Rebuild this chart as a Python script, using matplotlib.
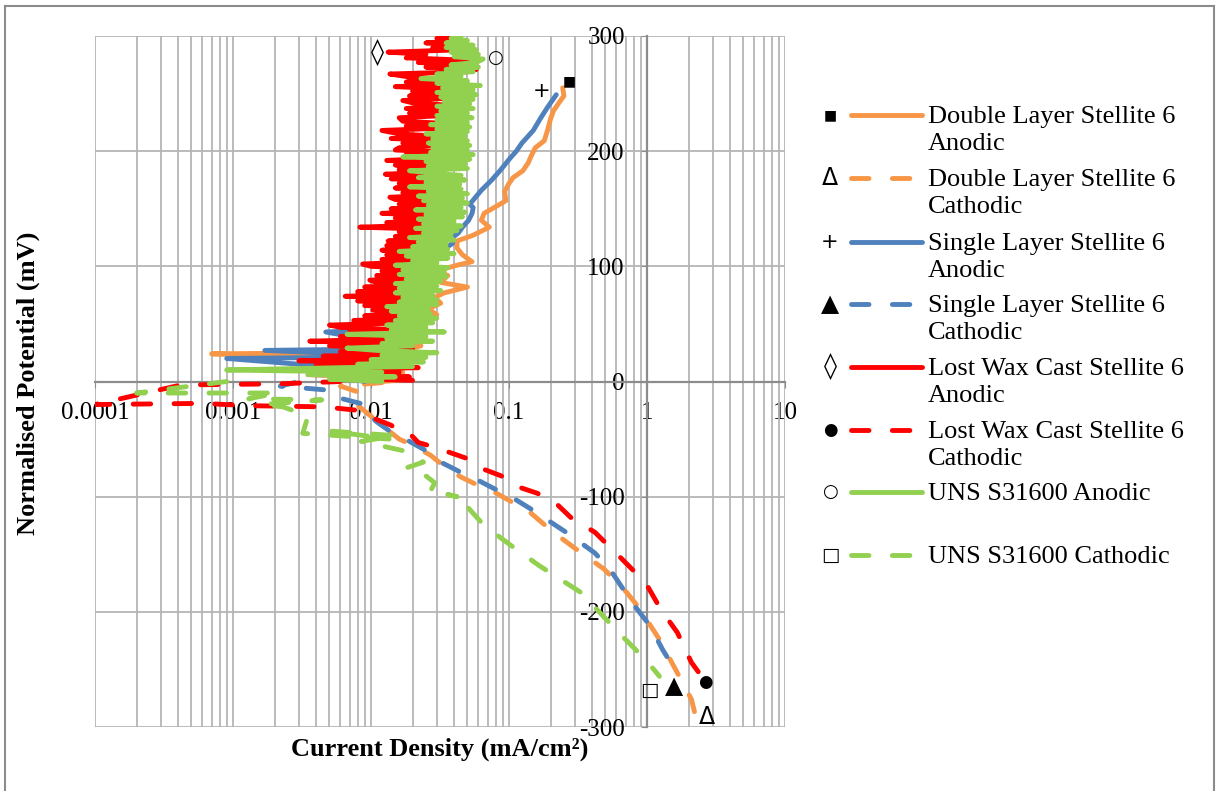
import numpy as np
import matplotlib.pyplot as plt
from matplotlib.lines import Line2D
from matplotlib.ticker import FixedLocator, FuncFormatter, LogLocator, NullFormatter

plt.rcParams['font.family'] = ['Liberation Serif', 'DejaVu Sans']
plt.rcParams['axes.unicode_minus'] = False

# current density (mA/cm2) and normalised potential (mV) for each polarisation scan
dl_an_i = [0.012, 0.019, 0.009, 0.017, 0.006, 0.014, 0.004, 0.012, 0.0007, 0.006, 0.018, 0.023,
           0.016, 0.021, 0.019, 0.025, 0.024, 0.030, 0.026, 0.032, 0.029, 0.034, 0.050, 0.032,
           0.036, 0.030, 0.042, 0.054, 0.046, 0.042, 0.042, 0.055, 0.072, 0.063, 0.066, 0.078,
           0.095, 0.093, 0.100, 0.107, 0.126, 0.138, 0.145, 0.155, 0.180, 0.190, 0.200, 0.210,
           0.230, 0.250, 0.245]
dl_an_e = [0, 2, 5, 8, 11, 14, 17, 20, 24, 25, 27, 31,
           36, 42, 46, 50, 54, 58, 63, 68, 73, 77, 82, 86,
           92, 96, 101, 104, 110, 116, 122, 127, 134, 140, 146, 151,
           157, 165, 172, 177, 183, 190, 196, 203, 209, 218, 228, 235,
           242, 248, 255]

dl_ca_i = [0.012, 0.006, 0.0085, 0.0075, 0.0095, 0.012, 0.016, 0.019, 0.027, 0.035, 0.045, 0.064,
           0.081, 0.11, 0.14, 0.21, 0.31, 0.49, 0.71, 0.87, 1.23, 1.66, 2.10, 2.22]
dl_ca_e = [-1, -4, -10, -18, -28, -38, -50, -54, -64, -75, -83, -92,
           -97, -106, -113, -131, -146, -163, -183, -196, -224, -253, -276, -288]

sl_an_i = [0.009, 0.0065, 0.011, 0.0045, 0.012, 0.003, 0.0009, 0.006, 0.010, 0.0017, 0.008, 0.012,
           0.010, 0.0047, 0.013, 0.015, 0.018, 0.020, 0.016, 0.022, 0.020, 0.025, 0.022, 0.028,
           0.026, 0.030, 0.036, 0.039, 0.038, 0.043, 0.046, 0.051, 0.054, 0.055, 0.052, 0.063,
           0.075, 0.086, 0.102, 0.113, 0.124, 0.150, 0.170, 0.190, 0.220]
sl_an_e = [0, 3, 6, 9, 12, 15, 20, 21, 23, 27, 28, 32,
           36, 43, 45, 50, 55, 62, 68, 74, 82, 88, 95, 102,
           108, 113, 117, 120, 124, 129, 134, 140, 146, 151, 154, 166,
           175, 183, 194, 200, 207, 218, 229, 238, 249]

sl_ca_i = [0.0028, 0.0022, 0.0055, 0.0062, 0.009, 0.0095, 0.011, 0.014, 0.019, 0.025, 0.032, 0.045,
           0.058, 0.078, 0.10, 0.15, 0.20, 0.26, 0.42, 0.56, 0.78, 1.05, 1.30, 1.65]
sl_ca_e = [-1, -4, -8, -15, -20, -28, -35, -44, -52, -60, -70, -79,
           -85, -93, -99, -112, -122, -131, -149, -166, -192, -212, -233, -253]

lw_an_i = [0.020, 0.009, 0.019, 0.0035, 0.016, 0.003, 0.022, 0.004, 0.018, 0.003, 0.020, 0.0045,
           0.018, 0.006, 0.020, 0.005, 0.014, 0.0036, 0.015, 0.006, 0.016, 0.007, 0.016, 0.006,
           0.005, 0.018, 0.0075, 0.020, 0.009, 0.018, 0.0103, 0.022, 0.009, 0.020, 0.008, 0.019,
           0.0065, 0.018, 0.008, 0.022, 0.009, 0.020, 0.011, 0.0098, 0.022, 0.011, 0.024, 0.012,
           0.022, 0.010, 0.0087, 0.021, 0.012, 0.025, 0.013, 0.024, 0.012, 0.026, 0.013, 0.028,
           0.0133, 0.026, 0.015, 0.027,
           0.016, 0.030, 0.0083, 0.0255, 0.013, 0.028, 0.015, 0.032, 0.012, 0.030, 0.014, 0.033,
           0.016, 0.030, 0.015, 0.0137, 0.032, 0.017, 0.034, 0.015, 0.030, 0.016, 0.035, 0.014,
           0.031, 0.0127, 0.030, 0.016, 0.034, 0.015, 0.031, 0.013, 0.033, 0.018, 0.036, 0.015,
           0.016, 0.033, 0.017, 0.035, 0.014, 0.030, 0.016, 0.012, 0.034, 0.018, 0.036, 0.017,
           0.016, 0.035, 0.019, 0.038, 0.018, 0.036, 0.020, 0.017, 0.037, 0.019, 0.040, 0.020,
           0.038, 0.015, 0.040, 0.018, 0.045, 0.020, 0.0137, 0.050, 0.058, 0.025, 0.048, 0.022,
           0.050, 0.018, 0.025, 0.0133, 0.045, 0.028, 0.050, 0.025, 0.048, 0.030, 0.040]
lw_an_e = [1, 2, 4, 6, 8, 10, 12, 14, 16, 18, 20, 22,
           24, 26, 28, 31, 33, 35, 37, 39, 41, 43, 45, 47,
           49, 51, 53, 55, 57, 59, 62, 64, 66, 68, 70, 72,
           74, 76, 78, 80, 82, 84, 86, 88, 90, 92, 94, 96,
           98, 100, 102, 104, 106, 108, 110, 112, 114, 116, 118, 120,
           122, 124, 126, 128,
           130, 132, 134, 136, 138, 140, 142, 144, 146, 148, 150, 152,
           154, 156, 158, 160, 162, 164, 166, 168, 170, 172, 174, 176,
           178, 180, 182, 184, 186, 188, 190, 192, 194, 197, 199, 201,
           203, 205, 207, 209, 211, 213, 215, 218, 220, 222, 224, 226,
           229, 231, 233, 235, 237, 240, 242, 244, 246, 248, 250, 252,
           254, 256, 258, 260, 262, 264, 267, 269, 271, 273, 275, 277,
           279, 281, 284, 286, 288, 290, 292, 294, 296, 298, 300]

lw_ca_i = [0.006, 0.0022, 0.00042, 0.0001, 0.0006, 0.0013, 0.0045, 0.008, 0.011, 0.014, 0.016, 0.019,
           0.022, 0.027, 0.038, 0.050, 0.065, 0.088, 0.12, 0.16, 0.22, 0.28, 0.42, 0.62,
           0.98, 1.26, 1.66, 2.10, 2.35]
lw_ca_e = [0, -2, -3, -20, -19, -21, -22, -25, -33, -38, -43, -45,
           -53, -56, -62, -67, -76, -82, -92, -97, -106, -118, -131, -151,
           -175, -198, -218, -244, -252]

uns_an_i = [0.012, 0.005, 0.015, 0.0035, 0.012, 0.0009, 0.006, 0.020, 0.008, 0.024, 0.010, 0.025,
            0.012, 0.030, 0.011, 0.0067, 0.020, 0.012, 0.028, 0.013, 0.025, 0.0067, 0.034, 0.014,
            0.025, 0.013, 0.028, 0.015, 0.030, 0.016, 0.027, 0.014, 0.026, 0.013, 0.030, 0.016,
            0.030, 0.017, 0.028, 0.015, 0.032, 0.016, 0.030, 0.015, 0.032, 0.018, 0.035, 0.016,
            0.034, 0.017, 0.036, 0.015, 0.030, 0.020, 0.036, 0.018, 0.040, 0.016, 0.036, 0.020,
            0.035, 0.022, 0.040, 0.019, 0.038, 0.024, 0.042, 0.021, 0.045, 0.024, 0.040, 0.022,
            0.046, 0.025, 0.048, 0.021, 0.045, 0.026, 0.050, 0.024, 0.046, 0.022, 0.050, 0.026,
            0.045, 0.019, 0.044, 0.025, 0.048, 0.022, 0.045, 0.027, 0.019, 0.050, 0.026, 0.048,
            0.025, 0.052, 0.017, 0.055, 0.027, 0.050, 0.028, 0.052, 0.026, 0.050, 0.028, 0.048,
            0.025, 0.050, 0.030, 0.052, 0.027, 0.050, 0.030, 0.054, 0.030, 0.050, 0.032, 0.055,
            0.030, 0.052, 0.034, 0.055, 0.032, 0.058, 0.030, 0.055, 0.033, 0.062, 0.030, 0.050,
            0.023, 0.045, 0.030, 0.055, 0.035, 0.060, 0.038, 0.058, 0.065, 0.040, 0.060, 0.038,
            0.058, 0.035, 0.055, 0.035, 0.050, 0.038, 0.045]
uns_an_e = [0, 2, 4, 6, 8, 10, 12, 13, 15, 17, 19, 21,
            23, 25, 27, 29, 31, 33, 35, 37, 39, 41, 43, 45,
            47, 49, 51, 53, 55, 57, 59, 61, 63, 65, 67, 69,
            71, 73, 75, 77, 79, 81, 83, 85, 87, 89, 91, 93,
            95, 97, 99, 101, 103, 105, 107, 109, 111, 113, 115, 117,
            119, 121, 123, 125, 127, 129, 131, 133, 135, 137, 139, 141,
            143, 145, 147, 149, 151, 153, 155, 157, 159, 161, 163, 165,
            167, 169, 171, 173, 175, 177, 179, 181, 183, 185, 187, 189,
            191, 193, 195, 197, 199, 201, 203, 205, 207, 209, 211, 213,
            215, 217, 219, 221, 223, 225, 227, 229, 231, 233, 235, 237,
            239, 241, 243, 245, 247, 249, 251, 253, 255, 257, 259, 261,
            263, 265, 267, 269, 271, 273, 275, 277, 280, 282, 284, 286,
            288, 290, 292, 294, 296, 298, 300]

uns_ca_i = [0.0009, 0.0002, 0.0011, 0.0021, 0.0013, 0.0044, 0.0016, 0.0023, 0.0035, 0.0032, 0.0137, 0.005,
            0.015, 0.0085, 0.017, 0.024, 0.018, 0.025, 0.029, 0.027, 0.042, 0.036, 0.050, 0.066,
            0.105, 0.166, 0.26, 0.33, 0.66, 0.83, 1.12, 1.23]
uns_ca_e = [0, -10, -10, -10, -15, -16, -20, -22, -30, -45, -50, -43,
            -47, -52, -60, -70, -75, -82, -88, -95, -100, -98, -109, -125,
            -143, -160, -175, -183, -221, -233, -250, -256]

names = ['Double Layer Stellite 6\nAnodic', 'Double Layer Stellite 6\nCathodic',
         'Single Layer Stellite 6\nAnodic', 'Single Layer Stellite 6\nCathodic',
         'Lost Wax Cast Stellite 6\nAnodic', 'Lost Wax Cast Stellite 6\nCathodic',
         'UNS S31600 Anodic', 'UNS S31600 Cathodic']
symbols = ['■', 'Δ', '+', '▲', '◊', '●', '○', '□']
colors = ['#F79646', '#F79646', '#4F81BD', '#4F81BD', '#FF0000', '#FF0000', '#92D050', '#92D050']

series = [(dl_an_i, dl_an_e), (dl_ca_i, dl_ca_e), (sl_an_i, sl_an_e), (sl_ca_i, sl_ca_e),
          (lw_an_i, lw_an_e), (lw_ca_i, lw_ca_e), (uns_an_i, uns_an_e), (uns_ca_i, uns_ca_e)]

dash = (0, (3.6, 4.8))
line_w = 3.5
fig = plt.figure(figsize=(12.16, 7.91), dpi=100)
ax = fig.add_axes([95 / 1216, 64 / 791, 690 / 1216, 691 / 791])

for k, (xi, ye) in enumerate(series):
    ls = '-' if k % 2 == 0 else dash
    ax.plot(xi, ye, color=colors[k], lw=line_w, linestyle=ls, solid_capstyle='round',
            dash_capstyle='round', solid_joinstyle='round', zorder=3)

ax.set_xscale('log')
ax.set_xlim(0.0001, 10)
ax.set_ylim(-300, 300)

ax.xaxis.set_major_locator(LogLocator(base=10, numticks=10))
ax.xaxis.set_minor_locator(LogLocator(base=10, subs=np.arange(2, 10), numticks=20))
ax.xaxis.set_minor_formatter(NullFormatter())
ax.xaxis.set_major_formatter(FuncFormatter(lambda v, p: f'{v:g}'))
ax.yaxis.set_major_locator(FixedLocator(np.arange(-300, 301, 100)))
ax.yaxis.set_major_formatter(FuncFormatter(lambda v, p: f'{int(v)}'))

ax.grid(True, which='both', axis='x', color='#b5b5b5', lw=1.3)
ax.grid(True, which='major', axis='y', color='#b5b5b5', lw=1.3)
ax.set_axisbelow(True)

for s in ['top', 'right']:
    ax.spines[s].set_visible(False)
ax.spines['left'].set_position(('data', 1))
ax.spines['bottom'].set_position(('data', 0))
for s in ['left', 'bottom']:
    ax.spines[s].set_color('#8c8c8c')
    ax.spines[s].set_linewidth(1.6)
    ax.spines[s].set_zorder(2)

ax.tick_params(axis='x', which='major', length=4, color='#8c8c8c', pad=11, labelsize=18)
ax.tick_params(axis='x', which='minor', length=0)
ax.tick_params(axis='y', length=4, color='#8c8c8c', pad=12, labelsize=18)

# end-point symbols next to each curve
marks = [(0, -1, (7, 7)), (1, -1, (12, -4)), (2, -1, (-15, 4)), (3, -1, (-3, -13)),
         (4, int(np.argmin(np.where(np.array(lw_an_e) > 280, lw_an_i, 1))), (-11, -1)),
         (5, -1, (7, -10)),
         (6, int(np.argmax(np.where(np.array(uns_an_e) > 275, uns_an_i, 0))), (12, 1)),
         (7, -1, (-10, -14))]
sym_size = {'■': 10, 'Δ': 17, '+': 15, '▲': 17, '◊': 19, '●': 12, '○': 13, '□': 14}
for k, idx, off in marks:
    xi, ye = series[k]
    ax.annotate(symbols[k], xy=(xi[idx], ye[idx]), xytext=off, textcoords='offset pixels',
                ha='center', va='center', fontsize=sym_size[symbols[k]],
                family=['DejaVu Sans'], zorder=5)

fig.text(28 / 1216, 1 - 383 / 791, 'Normalised Potential (mV)', rotation=90, ha='center',
         va='center', fontsize=19, fontweight='bold')
fig.text(440 / 1216, 1 - 749 / 791, 'Current Density (mA/cm²)', ha='center', va='center',
         fontsize=19, fontweight='bold')

# legend drawn by hand: symbol, line sample, then the entry text
row_y = [115, 178, 242, 304, 367, 430, 492, 555]
for k, name in enumerate(names):
    yf = 1 - row_y[k] / 791
    fig.text(830 / 1216, yf, symbols[k], ha='center', va='center',
             fontsize=sym_size[symbols[k]], family=['DejaVu Sans'])
    ls = '-' if k % 2 == 0 else dash
    fig.add_artist(Line2D([851 / 1216, 922 / 1216], [yf, yf], transform=fig.transFigure,
                          color=colors[k], lw=line_w, linestyle=ls, solid_capstyle='round',
                          dash_capstyle='round'))
    fig.text(928 / 1216, yf + 9 / 791, name, ha='left', va='top', fontsize=19,
             linespacing=1.3)

# chart frame
for xs, ys in [([5, 5], [6, 791]), ([5, 1214], [6, 6]), ([1214, 1214], [6, 791])]:
    fig.add_artist(Line2D([v / 1216 for v in xs], [1 - v / 791 for v in ys],
                          transform=fig.transFigure, color='#8c8c8c', lw=1.5))

fig.savefig('out.png', dpi=100)
